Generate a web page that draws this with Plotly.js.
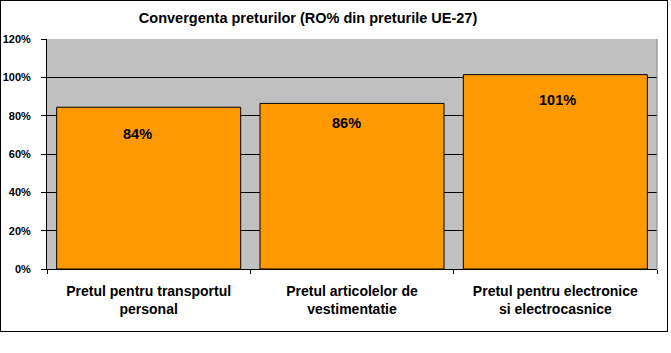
<!DOCTYPE html>
<html>
<head>
<meta charset="utf-8">
<script src="https://cdn.plot.ly/plotly-3.0.1.min.js"></script>
<style>
html,body{margin:0;padding:0;background:#fff;}
#wrap{position:absolute;left:0;top:0;width:668px;height:332px;box-sizing:border-box;border:1px solid #000;}
#chart{width:666px;height:330px;}
</style>
</head>
<body>
<div id="wrap"><div id="chart"></div></div>
<script>
var categories = ["Pretul pentru transportul<br>personal", "Pretul articolelor de<br>vestimentatie", "Pretul pentru electronice<br>si electrocasnice"];
var values = [0.844, 0.864, 1.014];
var valueLabels = ["84%", "86%", "101%"];
var yTickVals = [0, 0.2, 0.4, 0.6, 0.8, 1.0, 1.2];
var yTickText = ["0%", "20%", "40%", "60%", "80%", "100%", "120%"];

var FONT = "Liberation Sans, Arial, sans-serif";
// manual label placement offsets (pixels), as in the original chart
var labelDX = [-11, -6, 2];
var labelDY = [-27, -20, -25];

var trace = {
  type: "bar",
  x: categories,
  y: values,
  marker: {color: "#FF9900", line: {color: "#000000", width: 1}},
  hoverinfo: "none"
};

var annotations = categories.map(function(c, i){
  return {
    x: c, y: values[i], xref: "x", yref: "y",
    text: "<b>" + valueLabels[i] + "</b>",
    showarrow: false, xshift: labelDX[i], yshift: labelDY[i], yanchor: "middle",
    font: {family: FONT, size: 14.5, color: "#000"}
  };
});

var layout = {
  width: 666, height: 330,
  margin: {l: 46, r: 10, t: 38, b: 62, pad: 0},
  paper_bgcolor: "#FFFFFF",
  plot_bgcolor: "#C0C0C0",
  bargap: 0.095,
  showlegend: false,
  title: {
    text: "<b>Convergenta preturilor (RO% din preturile UE-27)</b>",
    font: {family: FONT, size: 14.5, color: "#000"},
    x: 0.461, xanchor: "center", xref: "container",
    y: 1 - 17/330, yanchor: "middle", yref: "container"
  },
  xaxis: {
    type: "category",
    showline: true, linecolor: "#000", linewidth: 1,
    ticks: "outside", tickson: "boundaries", ticklen: 4, tickcolor: "#000", tickwidth: 1,
    showgrid: false,
    tickfont: {family: FONT, size: 14, color: "#000", weight: "bold"},
    ticklabelstandoff: 9,
    fixedrange: true
  },
  yaxis: {
    range: [0, 1.2],
    tickvals: yTickVals, ticktext: yTickText,
    showline: true, linecolor: "#000", linewidth: 1,
    ticks: "outside", ticklen: 5, tickcolor: "#000", tickwidth: 1,
    showgrid: true, gridcolor: "#000", gridwidth: 1,
    zeroline: false,
    tickfont: {family: FONT, size: 11, color: "#000", weight: "bold"},
    ticklabelstandoff: 8,
    fixedrange: true
  },
  shapes: [{
    type: "line", xref: "paper", yref: "paper", x0: 1, x1: 1, y0: 0, y1: 1,
    line: {color: "#808080", width: 1}
  }],
  annotations: annotations
};

Plotly.newPlot("chart", [trace], layout, {displayModeBar: false, staticPlot: true});
</script>
</body>
</html>
